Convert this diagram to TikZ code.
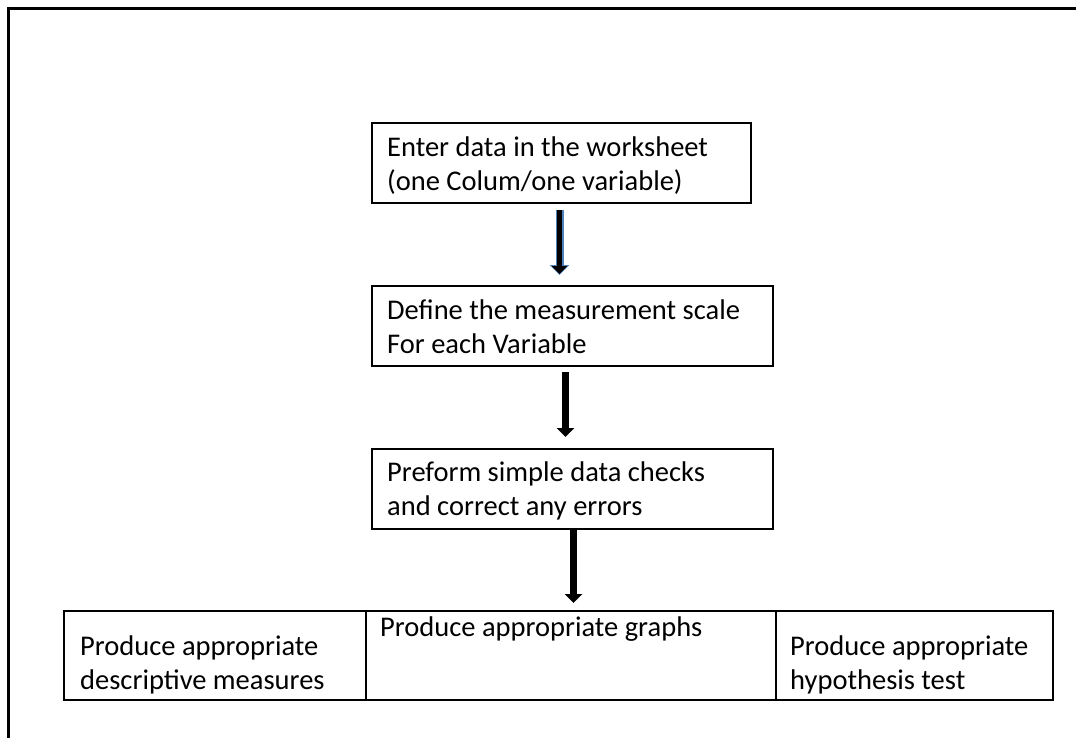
\documentclass[tikz,border=0pt]{standalone}
\usepackage{fontspec}
\setmainfont{Carlito}
\usetikzlibrary{arrows.meta}
\begin{document}
\begin{tikzpicture}[x=1pt,y=-1pt,
  stepbox/.style={draw=black,line width=2pt,inner sep=0pt},
  steptext/.style={anchor=base west,align=left,inner sep=0pt,font=\fontsize{28.5}{33.5}\selectfont},
  blockarrow/.style={line width=7pt,-{Triangle[width=17pt,length=9pt]}},
  frame/.style={line width=3pt}]
\useasboundingbox (0,0) rectangle (1076,738);
% outer frame
\coordinate (fTL) at (8.5,8.5);
\coordinate (fTR) at (1076,8.5);
\coordinate (fBL) at (8.5,738);
\draw[frame] (fTR) -- (fTL) -- (fBL);
% boxes
\node[stepbox,minimum width=379pt,minimum height=80pt,anchor=north west] (b1) at (371,122) {};
\node[stepbox,minimum width=401pt,minimum height=80pt,anchor=north west] (b2) at (371,285) {};
\node[stepbox,minimum width=401pt,minimum height=80pt,anchor=north west] (b3) at (371,448) {};
\node[stepbox,minimum width=302pt,minimum height=89pt,anchor=north west] (c1) at (63,610) {};
\node[stepbox,minimum width=410pt,minimum height=89pt,anchor=north west] (c2) at (365,610) {};
\node[stepbox,minimum width=277pt,minimum height=89pt,anchor=north west] (c3) at (775,610) {};
% texts (base anchor = baseline of the last line)
\node[steptext] (t1) at (387,190.5) {Enter data in the worksheet\\(one Colum/one variable)};
\node[steptext] (t2) at (387,353) {Define the measurement scale\\For each Variable};
\node[steptext] (t3) at (387,515) {Preform simple data checks\\and correct any errors};
\node[steptext] (u1) at (80,689) {Produce appropriate\\descriptive measures};
\node[steptext] (u2) at (380,636) {Produce appropriate graphs};
\node[steptext] (u3) at (790,689) {Produce appropriate\\hypothesis test};
% arrows
\draw[blockarrow,line width=8pt,-{Triangle[width=19pt,length=10pt]},draw={rgb,255:red,79;green,129;blue,189}]
  ([xshift=-2pt,yshift=-6pt]b1.south) -- ([xshift=-2pt,yshift=10pt]b1.south |- b2.north);
\draw[blockarrow,line width=5pt,-{Triangle[width=15pt,length=8pt]}]
  ([xshift=-2pt,yshift=-6pt]b1.south) -- ([xshift=-2pt,yshift=11pt]b1.south |- b2.north);
\draw[blockarrow] ([xshift=-7pt,yshift=-5pt]b2.south) -- ([xshift=-7pt,yshift=11pt]b2.south |- b3.north);
\draw[blockarrow] ([xshift=1pt]b3.south) -- ([xshift=1pt,yshift=7pt]b3.south |- c2.north);
\end{tikzpicture}
\end{document}
